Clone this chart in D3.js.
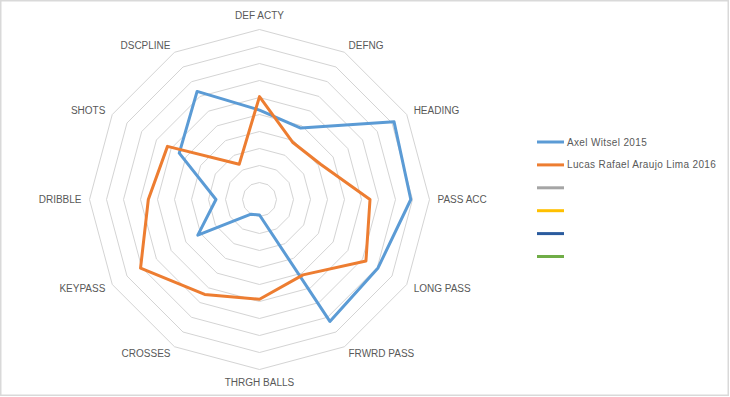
<!DOCTYPE html>
<meta charset="utf-8">

<!-- Load d3.js -->
<script src="https://d3js.org/d3.v7.min.js"></script>

<style>
  body { margin: 0; background: #fff; }
  text { font-family: "Liberation Sans", Arial, sans-serif; }
</style>

<!-- Create a div where the graph will take place -->
<div id="my_dataviz"></div>

<script>

    // categories (clockwise from the top)
    var axes = ["DEF ACTY", "DEFNG", "HEADING", "PASS ACC", "LONG PASS", "FRWRD PASS",
                "THRGH BALLS", "CROSSES", "KEYPASS", "DRIBBLE", "SHOTS", "DSCPLINE"];

    // series values, 0 - 10 scale
    var witsel = [5.26, 4.85, 9.14, 8.9, 8.05, 8.28, 0.91, 1.0, 4.19, 2.56, 5.45, 7.34];
    var lima   = [6.05, 3.89, 4.15, 6.5, 7.23, 5.12, 5.87, 6.45, 8.08, 6.54, 6.25, 2.39];

    // legend entries (the last four series are empty)
    var seriesNames = ["Axel Witsel 2015", "Lucas Rafael Araujo Lima 2016", "", "", "", ""];
    var seriesColors = ["#5B9BD5", "#ED7D31", "#A5A5A5", "#FFC000", "#2A5B9E", "#70AD47"];

    // ring levels
    var levels = [1, 2, 3, 4, 5, 6, 7, 8, 9, 10];

    // dimensions
    var width = 730, height = 397;
    var cx = 259.5, cy = 199.5, radius = 170;

    var svg = d3.select("#my_dataviz")
      .append("svg")
        .attr("width", width)
        .attr("height", height);

    // chart border
    svg.append("rect")
        .attr("x", 0.75)
        .attr("y", 0.75)
        .attr("width", width - 2.5)
        .attr("height", height - 2.5)
        .style("fill", "#fff")
        .style("stroke", "#d9d9d9")
        .style("stroke-width", 1.5);

    var g = svg.append("g")
        .attr("transform", "translate(" + cx + "," + cy + ")");

    // scales
    var r = d3.scaleLinear()
      .domain([0, 10])
      .range([0, radius]);

    var angle = d3.scalePoint()
      .domain(axes)
      .range([0, 2 * Math.PI * (axes.length - 1) / axes.length]);

    var radial = d3.lineRadial()
      .angle(function(d) { return angle(d.axis) })
      .radius(function(d) { return r(d.value) })
      .curve(d3.curveLinearClosed);

    // grid rings
    g.selectAll(".ring")
      .data(levels)
      .enter()
      .append("path")
        .attr("class", "ring")
        .attr("d", function(l) {
          return radial(axes.map(function(a) { return {axis: a, value: l} }))
        })
        .style("fill", "none")
        .style("stroke", "#d4d4d4")
        .style("stroke-width", 1);

    // category labels
    var labelR = radius + 8;
    g.selectAll(".axis-label")
      .data(axes)
      .enter()
      .append("text")
        .attr("class", "axis-label")
        .attr("x", function(a) { return labelR * Math.sin(angle(a)) })
        .attr("y", function(a) {
          var c = Math.cos(angle(a));
          var y = -labelR * c;
          if (c > 0.9) y -= 6.5;
          if (c < -0.9) y += 4.5;
          return y;
        })
        .attr("dy", "0.35em")
        .attr("text-anchor", function(a) {
          var s = Math.sin(angle(a));
          return s > 0.1 ? "start" : (s < -0.1 ? "end" : "middle");
        })
        .style("font-size", "10px")
        .style("fill", "#595959")
        .text(function(a) { return a });

    // series lines
    var series = [witsel, lima];
    g.selectAll(".series")
      .data(series)
      .enter()
      .append("path")
        .attr("class", "series")
        .attr("d", function(vals) {
          return radial(vals.map(function(v, i) { return {axis: axes[i], value: v} }))
        })
        .style("fill", "none")
        .style("stroke", function(d, i) { return seriesColors[i] })
        .style("stroke-width", 3)
        .style("stroke-linejoin", "round");

    // legend
    var legend = svg.append("g")
        .attr("transform", "translate(537,142)");

    var item = legend.selectAll(".item")
      .data(seriesNames)
      .enter()
      .append("g")
        .attr("class", "item")
        .attr("transform", function(d, i) { return "translate(0," + (i * 22.9) + ")" });

    item.append("line")
        .attr("x1", 0)
        .attr("x2", 27)
        .style("stroke", function(d, i) { return seriesColors[i] })
        .style("stroke-width", 3);

    item.append("text")
        .attr("x", 30)
        .attr("dy", "0.35em")
        .style("font-size", "10px")
        .style("letter-spacing", "0.35px")
        .style("fill", "#595959")
        .text(function(d) { return d });

</script>
